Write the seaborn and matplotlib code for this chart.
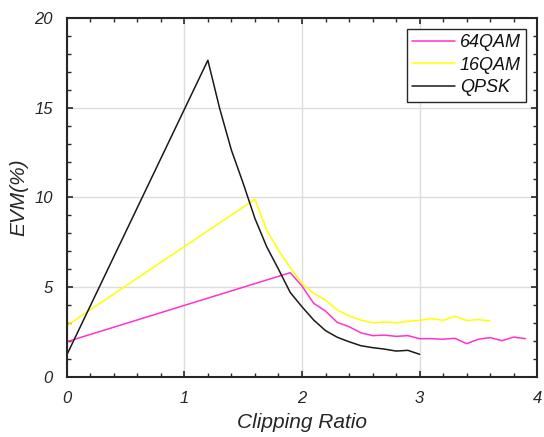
import matplotlib
matplotlib.use("Agg")
import matplotlib.pyplot as plt
import seaborn as sns
import pandas as pd
from matplotlib.ticker import MultipleLocator

# ---- data ----
x_64qam = [0.0, 1.9, 2.0, 2.1, 2.2, 2.3, 2.4, 2.5, 2.6, 2.7, 2.8, 2.9, 3.0,
           3.1, 3.2, 3.3, 3.4, 3.5, 3.6, 3.7, 3.8, 3.9]
y_64qam = [1.95, 5.8, 5.06, 4.09, 3.66, 3.03, 2.79, 2.45, 2.29, 2.32, 2.25, 2.29, 2.12,
           2.12, 2.09, 2.14, 1.84, 2.09, 2.18, 2.01, 2.21, 2.12]

x_16qam = [0.0, 1.6, 1.7, 1.8, 1.9, 2.0, 2.1, 2.2, 2.3, 2.4, 2.5, 2.6, 2.7, 2.8,
           2.9, 3.0, 3.1, 3.2, 3.3, 3.4, 3.5, 3.6]
y_16qam = [2.85, 9.9, 8.18, 7.05, 6.08, 5.21, 4.65, 4.28, 3.72, 3.39, 3.16, 3.01, 3.05, 3.01,
           3.09, 3.14, 3.24, 3.14, 3.37, 3.14, 3.18, 3.11]

x_qpsk = [0.0, 1.2, 1.3, 1.4, 1.5, 1.6, 1.7, 1.8, 1.9, 2.0, 2.1, 2.2, 2.3, 2.4,
          2.5, 2.6, 2.7, 2.8, 2.9, 3.0]
y_qpsk = [1.2, 17.65, 14.97, 12.64, 10.79, 8.83, 7.25, 6.0, 4.7, 3.9, 3.16, 2.57, 2.2, 1.95,
          1.73, 1.62, 1.54, 1.43, 1.47, 1.25]

series_names = ["64QAM", "16QAM", "QPSK"]
series_colors = {"64QAM": "#ff33cc", "16QAM": "#ffff00", "QPSK": "#1a1a1a"}

x_ticks = [0, 1, 2, 3, 4]
y_ticks = [0, 5, 10, 15, 20]
x_label = "Clipping Ratio"
y_label = "EVM(%)"

# ---- build long table ----
frames = []
for name, xs, ys in zip(series_names, [x_64qam, x_16qam, x_qpsk], [y_64qam, y_16qam, y_qpsk]):
    frames.append(pd.DataFrame({"x": xs, "y": ys, "series": name}))
df = pd.concat(frames, ignore_index=True)

sns.set_theme(style="ticks")
plt.rcParams["font.family"] = ["Liberation Sans", "DejaVu Sans"]
plt.rcParams["font.style"] = "italic"

fig = plt.figure(figsize=(5.44, 4.37), dpi=100)
ax = fig.add_axes([0.1226, 0.138, 0.865, 0.8205])

sns.lineplot(data=df, x="x", y="y", hue="series", hue_order=series_names,
             palette=series_colors, sort=False, estimator=None, linewidth=1.1, ax=ax)

ax.set_xlim(0, 4)
ax.set_ylim(0, 20)
ax.set_xticks(x_ticks)
ax.set_yticks(y_ticks)
ax.set_xticklabels([str(t) for t in x_ticks])
ax.set_yticklabels([str(t) for t in y_ticks])
ax.xaxis.set_minor_locator(MultipleLocator(0.2))
ax.yaxis.set_minor_locator(MultipleLocator(1))
ax.grid(True, which="major", color="#dcdcdc", linewidth=1.0)
ax.set_axisbelow(True)

ax.tick_params(which="both", direction="in", top=True, right=True, colors="#262626",
               labelsize=12, labelcolor="#262626")
ax.tick_params(which="major", length=4, width=1.2)
ax.tick_params(which="minor", length=3, width=1.0)
ax.tick_params(axis="x", which="major", pad=10)
ax.tick_params(axis="y", which="major", pad=10)
for s in ax.spines.values():
    s.set_color("#262626")
    s.set_linewidth(1.5)

ax.set_xlabel(x_label, fontsize=15, color="#262626", labelpad=5)
ax.set_ylabel(y_label, fontsize=15, color="#262626", labelpad=4)

leg = ax.legend(loc="upper right", fontsize=13, frameon=True, fancybox=False,
                edgecolor="#262626", framealpha=1, borderaxespad=0.6,
                handlelength=2.35, handletextpad=0.3, borderpad=0.3, labelspacing=0.3)
leg.get_frame().set_linewidth(1.0)
for t in leg.get_texts():
    t.set_color("#111111")

fig.savefig("out.png", dpi=100)
